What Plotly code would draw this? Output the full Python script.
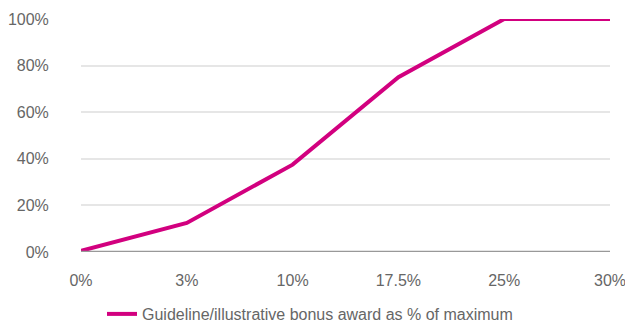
import plotly.graph_objects as go

categories = ["0%", "3%", "10%", "17.5%", "25%", "30%"]
bonus_award = [0.5, 12.5, 37.5, 75, 100, 100]
y_ticks = [0, 20, 40, 60, 80, 100]
y_tick_labels = ["0%", "20%", "40%", "60%", "80%", "100%"]

fig = go.Figure()
fig.add_trace(go.Scatter(
    x=list(range(len(categories))), y=bonus_award, mode="lines",
    line=dict(color="#D2007F", width=4),
    name="Guideline/illustrative bonus award as % of maximum",
))
fig.update_layout(
    width=625, height=322,
    margin=dict(l=81, r=15, t=19, b=70),
    paper_bgcolor="white", plot_bgcolor="white",
    font=dict(family="Liberation Sans, Arial, sans-serif", size=16, color="#666666"),
    showlegend=True,
    legend=dict(orientation="h", x=102 / 625, xref="container", xanchor="left",
                yref="container", y=(322 - 314) / 322, yanchor="middle",
                bgcolor="rgba(0,0,0,0)", borderwidth=0,
                font=dict(size=16, color="#666666")),
    xaxis=dict(range=[0, 5], tickmode="array", tickvals=list(range(len(categories))),
               ticktext=categories, showgrid=False, zeroline=False, showline=False,
               ticks="outside", tickcolor="white", ticklen=14, automargin=False,
               ticklabeloverflow="allow", fixedrange=True),
    yaxis=dict(range=[0, 100], tickmode="array", tickvals=y_ticks, ticktext=y_tick_labels,
               showgrid=True, gridcolor="#E6E6E6", gridwidth=2, zeroline=False,
               showline=False, ticks="outside", tickcolor="white", ticklen=28,
               automargin=False, ticklabeloverflow="allow"),
)
fig.add_hline(y=0, line=dict(color="#999999", width=2.5))
fig.write_html("out.html")
